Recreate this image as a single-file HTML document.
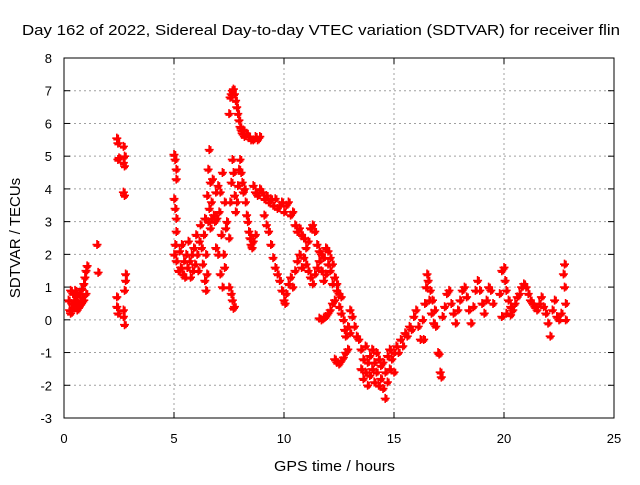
<!DOCTYPE html>
<html><head><meta charset="utf-8"><style>
body{margin:0;background:#fff}
svg text{font-family:"Liberation Sans",sans-serif;fill:#000}
</style></head><body>
<svg id="chart" width="640" height="480" viewBox="0 0 640 480" xmlns="http://www.w3.org/2000/svg">
<rect width="640" height="480" fill="#fff"/>
<text x="22" y="35" font-size="15" textLength="598" lengthAdjust="spacingAndGlyphs">Day 162 of 2022, Sidereal Day-to-day VTEC variation (SDTVAR) for receiver flin</text>
<g id="grid"></g>
<g id="ticks"></g>
<g id="marks"></g>
<rect x="64" y="58" width="550" height="360" fill="none" stroke="#000" stroke-width="1"/>
<text x="274" y="471" font-size="15" textLength="121" lengthAdjust="spacingAndGlyphs">GPS time / hours</text>
<text transform="translate(20,238) rotate(-90)" font-size="15" text-anchor="middle">SDTVAR / TECUs</text>
</svg>
<script>
const xTicks=[0,5,10,15,20,25];
const yTicks=[-3,-2,-1,0,1,2,3,4,5,6,7,8];
const segEarly=[[0.2,0.6],[0.25,0.3],[0.3,0.9],[0.3,0.2],[0.35,0.5],[0.4,0.8],[0.4,0.35],[0.45,0.6],[0.5,0.4],[0.5,0.9],[0.55,0.6],[0.6,0.3],[0.6,0.75],[0.65,0.5],[0.7,0.8],[0.7,0.4],[0.75,0.6],[0.8,0.95],[0.8,0.5],[0.85,0.7],[0.9,1.1],[0.9,0.6],[0.95,1.3],[1.0,1.5],[1.0,0.8],[1.05,1.65],[1.5,2.3],[1.55,1.45]];
const segTwo=[[2.4,5.55],[2.45,5.4],[2.5,4.95],[2.45,4.9],[2.7,5.3],[2.75,5.0],[2.7,4.8],[2.75,4.7],[2.7,3.9],[2.75,3.8],[2.4,0.7],[2.4,0.4],[2.45,0.2],[2.7,0.1],[2.75,-0.15],[2.8,1.2],[2.8,1.4],[2.75,0.9],[2.7,0.3]];
const segFive=[[5.0,5.05],[5.05,4.9],[5.1,4.6],[5.1,4.3],[5.0,3.7],[5.05,3.4],[5.1,3.1],[5.1,2.7],[5.05,2.3],[5.0,2.0],[5.1,1.8],[5.2,1.5],[5.25,2.1],[5.3,1.6],[5.35,2.3],[5.4,1.4],[5.45,1.8],[5.5,1.3],[5.55,2.0],[5.6,1.6],[5.65,2.4],[5.7,1.8],[5.75,1.3],[5.8,2.0],[5.85,1.5],[5.9,2.2],[5.95,1.7],[6.0,2.6],[6.05,2.0],[6.1,1.5],[6.15,2.4],[6.2,2.9],[6.25,2.2],[6.3,1.7],[6.35,2.6],[6.4,3.1],[6.4,1.2],[6.45,0.9],[6.45,2.0],[6.5,3.8],[6.5,1.4],[6.55,4.6],[6.55,3.0],[6.6,5.2],[6.6,3.4],[6.65,4.2],[6.65,2.8],[6.7,3.6],[6.7,3.1],[6.75,4.3],[6.8,3.2],[6.85,3.0],[6.9,3.9],[6.9,2.2],[6.95,3.1],[7.0,4.1],[7.0,2.0],[7.05,3.3],[7.1,1.4],[7.1,3.9],[7.15,2.6],[7.2,1.0],[7.2,4.5],[7.25,2.0],[7.3,3.6],[7.3,1.6],[7.35,2.8],[7.4,3.0]];
const segEight=[[7.5,2.5],[7.5,1.0],[7.55,3.6],[7.6,4.2],[7.6,0.8],[7.65,4.9],[7.65,0.6],[7.7,4.5],[7.7,0.35],[7.75,3.8],[7.75,0.4],[7.8,3.3],[7.85,3.6],[7.9,4.1],[7.95,4.6],[8.0,4.9],[8.05,4.5],[8.1,4.2],[8.15,3.9],[8.2,4.0],[8.25,3.6],[8.3,3.2],[8.35,3.0],[8.4,2.7],[8.45,2.5],[8.5,2.3],[8.55,2.2],[8.6,2.4],[8.7,2.6]];
const segPeak=[[7.5,6.3],[7.55,6.8],[7.6,6.9],[7.65,7.0],[7.7,7.05],[7.75,6.9],[7.8,6.7],[7.85,6.5],[7.9,6.3],[7.95,6.1],[8.0,5.9],[8.05,5.8],[8.1,5.7],[8.15,5.8],[8.2,5.6],[8.3,5.7],[8.4,5.6],[8.5,5.5],[8.6,5.5],[8.7,5.6],[8.8,5.5],[8.9,5.6]];
const segUpper=[[8.6,4.1],[8.7,3.9],[8.8,3.8],[8.9,4.0],[9.0,3.9],[9.1,3.7],[9.2,3.8],[9.3,3.6],[9.4,3.7],[9.5,3.5],[9.6,3.7],[9.7,3.4],[9.8,3.5],[9.9,3.6],[10.0,3.3],[10.1,3.5],[10.2,3.6],[10.3,3.2],[10.4,3.3],[10.5,2.9],[10.6,2.7],[10.7,2.8],[10.8,2.6],[10.9,2.5],[11.0,2.2],[11.1,2.4],[11.2,2.8],[11.3,2.9],[11.4,2.7],[11.5,2.3],[11.6,2.1],[11.7,2.0],[11.8,1.9],[11.9,2.2],[12.0,2.1],[12.1,1.9],[12.2,1.7],[12.3,1.3],[12.4,1.1],[12.5,0.8],[12.6,0.7]];
const segLower=[[9.1,3.2],[9.2,2.9],[9.3,2.7],[9.4,2.3],[9.5,1.9],[9.6,1.6],[9.7,1.4],[9.8,1.2],[9.9,0.9],[10.0,0.6],[10.05,0.5],[10.1,0.8],[10.2,1.1],[10.3,1.3],[10.4,1.0],[10.5,1.5],[10.6,1.8],[10.7,2.0],[10.8,1.6],[10.9,1.9],[11.0,1.7],[11.1,1.5],[11.2,1.3],[11.3,1.1],[11.4,1.4],[11.5,1.6],[11.6,1.8],[11.7,1.5],[11.8,1.2],[11.9,1.4],[12.0,1.7],[12.1,1.5],[12.2,1.1],[12.3,0.6],[11.6,0.05],[11.7,0.0],[11.8,0.05],[11.9,0.1],[12.0,0.2],[12.1,0.3],[12.2,0.5],[12.4,0.9],[12.5,0.4],[12.6,0.2],[12.7,0.0],[12.75,-0.3],[12.8,-0.5],[12.9,-0.2],[13.0,-0.4],[12.3,-1.2],[12.4,-1.3],[12.5,-1.35],[12.6,-1.25],[12.7,-1.15],[12.8,-1.0],[12.9,-0.9]];
const segTrough=[[13.0,0.3],[13.1,0.1],[13.2,-0.2],[13.3,-0.5],[13.4,-0.6],[13.5,-0.9],[13.5,-1.5],[13.6,-1.2],[13.6,-1.8],[13.7,-0.8],[13.7,-1.6],[13.8,-1.3],[13.8,-2.0],[13.9,-1.1],[13.9,-1.7],[14.0,-0.9],[14.0,-1.5],[14.1,-1.3],[14.1,-1.9],[14.2,-1.0],[14.2,-1.6],[14.3,-1.2],[14.3,-2.0],[14.4,-1.4],[14.4,-1.8],[14.5,-2.1],[14.5,-1.3],[14.6,-2.4],[14.6,-1.6],[14.7,-1.9],[14.7,-1.1],[14.8,-1.5],[14.8,-0.9],[14.9,-1.2],[15.0,-1.0],[15.0,-1.6],[15.1,-0.8],[15.2,-1.0],[15.3,-0.6],[15.4,-0.8],[15.5,-0.4],[15.6,-0.5],[15.7,-0.2],[15.8,-0.3],[15.9,0.1],[16.0,0.3],[16.1,-0.2],[16.2,-0.6]];
const segEvening=[[16.3,0.0],[16.35,-0.6],[16.4,0.5],[16.45,1.0],[16.5,1.4],[16.55,1.2],[16.6,0.6],[16.65,0.9],[16.7,0.2],[16.75,0.6],[16.8,-0.1],[16.85,0.3],[16.9,-0.2],[17.0,-1.0],[17.05,-1.05],[17.1,-1.6],[17.15,-1.75],[17.2,0.1],[17.3,0.4],[17.4,0.8],[17.5,0.9],[17.6,0.5],[17.7,0.2],[17.8,-0.1],[17.9,0.3],[18.0,0.6],[18.1,0.9],[18.2,1.0],[18.3,0.7],[18.4,0.3],[18.5,-0.1],[18.6,0.4],[18.7,0.9],[18.8,1.2],[18.9,0.9],[19.0,0.5],[19.1,0.2],[19.2,0.6],[19.3,1.0],[19.4,0.9],[19.5,0.5]];
const segNight=[[19.8,0.8],[19.9,1.5],[20.0,1.6],[20.05,1.2],[20.1,0.9],[20.2,0.6],[20.3,0.4],[20.4,0.3],[19.9,0.1],[20.1,0.2],[20.3,0.15],[20.5,0.5],[20.6,0.7],[20.7,0.8],[20.8,1.0],[20.9,1.1],[21.0,1.0],[21.1,0.8],[21.2,0.6],[21.3,0.5],[21.4,0.4],[21.5,0.3],[21.6,0.5],[21.7,0.7],[21.8,0.4],[21.9,0.2],[22.0,-0.1],[22.1,-0.5],[22.2,0.3],[22.3,0.6],[22.4,0.1],[22.5,0.0],[22.6,0.2],[22.7,1.4],[22.75,1.7],[22.8,0.5],[22.8,0.0],[22.75,1.0]];

const X0=64,X1=614,Y0=418,Y1=58;
const xScale=t=>X0+(t-0)/(25-0)*(X1-X0);
const yScale=v=>Y0-(v+3)/(8+3)*(Y0-Y1);
const NS='http://www.w3.org/2000/svg';
const grid=document.getElementById('grid'),ticks=document.getElementById('ticks'),marks=document.getElementById('marks');
function mk(tag,attrs,parent){const e=document.createElementNS(NS,tag);for(const k in attrs)e.setAttribute(k,attrs[k]);parent.appendChild(e);return e;}
xTicks.forEach(t=>{
  const x=xScale(t);
  if(t>0&&t<25){const g=mk('line',{x1:x,x2:x,y1:Y1,y2:Y0,stroke:'#a0a0a0','stroke-dasharray':'2,3'},grid);
  
  }
  mk('line',{x1:x,x2:x,y1:Y0,y2:Y0-6,stroke:'#000'},ticks);
  mk('line',{x1:x,x2:x,y1:Y1,y2:Y1+6,stroke:'#000'},ticks);
  const l=mk('text',{x:x,y:443,'font-size':13,'text-anchor':'middle'},ticks);
  l.textContent=t;
  
  
});
yTicks.forEach(v=>{
  const y=yScale(v);
  if(v>-3&&v<8){const g=mk('line',{x1:X0,x2:X1,y1:y,y2:y,stroke:'#a0a0a0','stroke-dasharray':'2,3'},grid);
  
  }
  mk('line',{x1:X0,x2:X0+6,y1:y,y2:y,stroke:'#000'},ticks);
  mk('line',{x1:X1,x2:X1-6,y1:y,y2:y,stroke:'#000'},ticks);
  const l=mk('text',{x:52,y:y+5,'font-size':13,'text-anchor':'end'},ticks);
  l.textContent=v;
  
  
});
const all=[segEarly,segTwo,segFive,segEight,segPeak,segUpper,segLower,segTrough,segEvening,segNight];
let d='';
all.forEach(seg=>seg.forEach(([t,v])=>{const x=xScale(t),y=yScale(v);d+=`M${x-4.5},${y}h9M${x},${y-4.5}v9M${x-3.5},${y+1.5}h7M${x+1.5},${y-3.5}v7`;}));
const p=mk('path',{d:d,stroke:'#ff0000','stroke-width':1.6,fill:'none'},marks);


</script>
</body></html>
